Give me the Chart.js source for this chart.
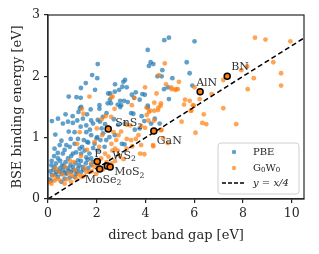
<!DOCTYPE html>
<html lang="en">
<head>
<meta charset="UTF-8">
<title>BSE binding energy vs direct band gap</title>
<script src="https://cdn.jsdelivr.net/npm/chart.js@4.4.9/dist/chart.umd.min.js"></script>
<style>
  html, body { margin: 0; padding: 0; background: #fff; }
</style>
</head>
<body>
<canvas id="grafico" width="319" height="254"></canvas>
<script>
// [direct gap, BSE binding energy]
const pbe = [
  [2.04,2.20],[1.81,2.02],[2.02,1.97],[1.35,1.81],[1.93,1.78],[0.85,1.67],[1.17,1.66],[1.34,1.65],[2.55,1.72],[2.11,1.53],
  [2.45,1.56],[2.58,1.56],[1.55,1.89],[4.77,2.59],[4.96,2.63],[4.09,2.43],[4.21,2.23],[4.14,2.17],[4.32,2.20],[4.69,2.10],
  [4.49,2.00],[4.66,2.00],[5.10,1.97],[3.16,1.94],[3.09,1.91],[2.75,1.87],[3.05,1.83],[3.23,1.82],[2.92,1.78],[4.76,1.79],
  [4.92,1.82],[3.60,1.74],[3.44,1.70],[3.53,1.65],[3.87,1.71],[4.96,1.63],[2.96,1.60],[3.12,1.60],[3.27,1.58],[2.86,1.54],
  [3.00,1.53],[4.09,1.52],[4.38,1.31],[4.58,1.23],[6.01,2.57],[5.69,2.23],[5.81,2.05],[5.92,1.85],[2.54,1.62],[2.47,1.72],
  [2.74,1.75],[3.76,1.62],[3.97,1.70],
  [1.36,1.50],[2.11,1.47],[0.41,1.31],[0.16,1.27],[0.61,1.23],[0.82,1.26],[1.02,1.24],[1.20,1.28],[1.43,1.31],[1.57,1.20],
  [1.77,1.28],[2.04,1.29],[2.25,1.34],[2.34,1.22],[1.34,1.18],[1.57,1.09],[1.09,1.09],[0.93,0.98],[1.23,0.98],[1.77,1.04],
  [2.02,1.01],[2.15,0.96],[1.47,0.96],[1.61,0.93],[1.09,0.90],[1.91,0.90],[0.48,0.88],[0.75,0.88],[0.27,0.82],[0.89,0.85],
  [1.30,0.82],[1.50,0.79],[2.32,0.85],[2.39,0.96],[2.52,1.01],[0.61,0.74],[1.02,0.74],[1.36,0.74],[1.70,0.74],[2.04,0.79],
  [0.82,0.66],[0.41,0.66],[1.23,0.63],[1.57,0.68],[1.77,0.66],[0.72,1.38],[1.01,1.35],[1.31,1.48],[2.13,1.26],[1.85,1.23],
  [1.72,1.13],[2.26,1.07],[1.99,0.99],[2.88,1.21],[3.15,1.23],[2.74,1.04],[3.56,1.13],[3.76,1.15],[2.96,1.50],[3.41,1.40],
  [3.50,1.39],[3.95,1.27],[4.23,1.23],[3.03,0.90],[3.14,0.89],[3.84,1.35],[4.09,1.49],
  [0.14,0.55],[0.27,0.52],[0.48,0.50],[0.65,0.53],[0.82,0.50],[1.02,0.52],[1.23,0.50],[1.43,0.52],[1.64,0.50],[1.77,0.55],
  [0.34,0.44],[0.55,0.41],[0.75,0.41],[0.95,0.44],[1.16,0.41],[1.36,0.44],[0.16,0.39],[0.41,0.36],[0.68,0.33],[0.89,0.35],
  [1.09,0.36],[0.14,0.30],[0.55,0.28],[0.05,0.32],[0.10,0.45],[0.22,0.48],[0.30,0.40],[0.33,0.58],[0.45,0.45],[0.58,0.55],
  [0.62,0.47],[0.70,0.43],[0.72,0.60],[0.85,0.46],[0.92,0.55],[1.05,0.47],[1.12,0.58],[1.20,0.44],[1.28,0.55],[1.35,0.62],
  [1.45,0.48],[1.55,0.58],[1.62,0.64],[1.85,0.60],[0.15,0.62],[0.25,0.70],[0.50,0.62],[0.40,0.75],[0.68,0.80],[0.95,0.70],
  [1.15,0.76],[1.40,0.85],[1.65,0.92],[1.85,0.83],[0.55,0.95],[0.85,1.10],[1.25,1.42],[1.60,1.38],[1.75,1.46],[2.20,1.15],
  [2.40,1.40],[2.70,1.30],[0.30,1.05]
];

const g0w0 = [
  [1.70,1.67],[2.60,1.66],[4.79,2.21],[4.55,2.02],[3.98,1.82],[4.84,1.87],[5.07,1.79],[5.21,1.78],[5.06,1.82],[5.26,1.79],
  [3.54,1.65],[2.65,1.67],[4.36,1.57],[4.63,1.56],[4.62,1.52],[3.44,1.53],[4.20,1.44],[4.51,1.45],[4.45,1.72],[4.04,1.49],
  [1.45,1.39],[2.36,1.35],[5.37,1.91],[6.01,1.82],[7.19,1.94],[6.71,1.71],[5.62,1.62],[5.81,1.60],[5.94,1.53],[5.58,1.54],
  [5.32,1.79],[6.22,1.63],[5.98,1.52],[5.85,1.44],[8.49,2.63],[8.92,2.60],[9.94,2.57],[8.17,2.16],[7.93,2.10],[9.24,2.23],
  [9.56,2.05],[8.44,1.97],[9.56,1.85],[8.19,1.79],[7.19,1.48],[6.39,1.38],[5.48,1.26],[6.33,1.24],[6.49,1.22],[7.72,1.22],
  [6.05,1.08],[5.88,1.44],[4.72,0.99],[4.92,0.91],[4.31,0.88],[4.65,1.13],
  [2.73,1.47],[4.14,1.42],[4.05,1.37],[4.36,1.44],[4.53,1.49],[4.12,1.28],[4.36,1.28],[3.82,1.19],[3.98,1.16],[3.23,1.21],
  [3.37,1.20],[2.69,1.09],[2.89,1.04],[3.23,0.98],[3.41,0.96],[3.71,1.04],[3.60,0.98],[3.82,0.88],[3.78,0.74],[3.95,0.73],
  [4.32,0.86],[3.23,0.82],[3.46,0.86],[2.75,0.82],[2.86,0.79],[2.80,0.96],[4.64,1.12],[2.64,0.79],
  [1.39,1.47],[1.30,1.09],[1.91,0.93],[2.22,1.04],[2.45,1.17],[2.59,1.34],[2.34,0.74],[2.48,0.69],[2.18,0.66],[1.77,0.58],
  [1.57,0.44],[1.70,0.44],[1.91,0.52],[1.98,0.41],[1.36,0.36],[1.16,0.33],[0.95,0.28],[0.68,0.25],[0.27,0.30],[0.14,0.25],
  [0.05,0.28],[0.20,0.38],[0.35,0.33],[0.42,0.45],[0.50,0.30],[0.60,0.40],[0.78,0.32],[0.85,0.42],[1.00,0.38],[1.10,0.47],
  [1.25,0.40],[1.45,0.37],[1.50,0.50],[1.80,0.45],[2.05,0.55],[2.25,0.48],[2.40,0.60],[2.60,0.58],[2.75,0.62],[2.95,0.70],
  [3.10,0.65],[0.30,0.50],[0.70,0.52],[1.05,0.60],[1.35,0.70],[1.60,0.80],[2.10,0.85],[2.60,0.90],[3.00,1.10],[1.20,0.90],
  [0.90,0.62],[2.00,1.15],[2.20,1.30]
];

// marked materials (G0W0 values)
const materiais = ['BN', 'AlN', 'GaN', 'SnS_2', 'P', 'WS_2', 'MoS_2', 'MoSe_2'];
const materiaisGap = [7.35, 6.24, 4.34, 2.47, 2.02, 2.43, 2.55, 2.12];
const materiaisBse = [2.00, 1.75, 1.11, 1.14, 0.61, 0.54, 0.52, 0.49];
// label offset from the marker, in pixels (left edge, baseline)
const rotuloDx = [4, -4, 3, 7, -3, 5, 4, -15];
const rotuloDy = [-6, -6, 13, -3, -5, -7, 8, 14];

const retaGap = [0, 10.5];
const retaBse = [0, 2.625];

const xTicks = [0, 2, 4, 6, 8, 10];
const yTicks = [0, 1, 2, 3];

const corAzul = 'rgba(31,119,180,0.7)';
const corLaranja = 'rgba(255,127,14,0.7)';
const corEixo = '#262626';
const fonte = 'DejaVu Serif';

// draws text where '_x' means subscript x
function textoRico(ctx, texto, x, y, tam) {
  let cx = x;
  for (let i = 0; i < texto.length; i++) {
    let sub = false, ch = texto[i];
    if (ch === '_') { sub = true; ch = texto[++i]; }
    const t = sub ? tam * 0.7 : tam;
    ctx.font = t + 'px "' + fonte + '"';
    ctx.fillText(ch, cx, sub ? y + tam * 0.22 : y);
    cx += ctx.measureText(ch).width;
  }
}

const extras = {
  id: 'extras',
  afterDatasetsDraw(chart) {
    const ctx = chart.ctx;
    const xs = chart.scales.x, ys = chart.scales.y;
    ctx.save();
    ctx.fillStyle = '#333';
    ctx.textBaseline = 'alphabetic';
    ctx.textAlign = 'left';
    materiais.forEach((nome, i) => {
      const px = xs.getPixelForValue(materiaisGap[i]);
      const py = ys.getPixelForValue(materiaisBse[i]);
      textoRico(ctx, nome, px + rotuloDx[i], py + rotuloDy[i], 11);
    });
    ctx.restore();
  },
  afterDraw(chart) {
    const ctx = chart.ctx;
    const a = chart.chartArea;
    ctx.save();
    // frame
    ctx.strokeStyle = corEixo;
    ctx.lineWidth = 1.2;
    ctx.strokeRect(a.left, a.top, a.right - a.left, a.bottom - a.top);

    // legend box
    const bx = a.right - 86, by = a.bottom - 56, bw = 81, bh = 51;
    ctx.beginPath();
    ctx.roundRect(bx, by, bw, bh, 3);
    ctx.fillStyle = 'rgba(255,255,255,0.8)';
    ctx.fill();
    ctx.strokeStyle = '#d0d0d0';
    ctx.lineWidth = 1;
    ctx.stroke();

    const mx = bx + 16, tx = bx + 35;
    const linhas = [by + 9, by + 25, by + 40];
    ctx.fillStyle = corAzul;
    ctx.beginPath(); ctx.arc(mx, linhas[0], 2.2, 0, Math.PI * 2); ctx.fill();
    ctx.fillStyle = corLaranja;
    ctx.beginPath(); ctx.arc(mx, linhas[1], 2.2, 0, Math.PI * 2); ctx.fill();
    ctx.strokeStyle = '#000';
    ctx.lineWidth = 1.5;
    ctx.setLineDash([4, 2]);
    ctx.beginPath(); ctx.moveTo(bx + 4, linhas[2]); ctx.lineTo(bx + 28, linhas[2]); ctx.stroke();
    ctx.setLineDash([]);

    ctx.fillStyle = '#222';
    ctx.textBaseline = 'middle';
    textoRico(ctx, 'PBE', tx, linhas[0], 10);
    textoRico(ctx, 'G_0W_0', tx, linhas[1], 10);
    ctx.font = 'italic 10px "' + fonte + '"';
    ctx.fillText('y = x/4', tx, linhas[2]);
    ctx.restore();
  }
};

const eixoComum = {
  type: 'linear',
  grid: { drawOnChartArea: false, drawTicks: true, tickLength: 4, color: corEixo, lineWidth: 1.2 },
  border: { display: true, color: corEixo, width: 1.2 }
};

new Chart(document.getElementById('grafico'), {
  type: 'scatter',
  data: {
    datasets: [
      {
        label: 'PBE',
        data: pbe.map(p => ({ x: p[0], y: p[1] })),
        backgroundColor: corAzul,
        borderWidth: 0,
        pointRadius: 2.4,
        order: 4
      },
      {
        label: 'G0W0',
        data: g0w0.map(p => ({ x: p[0], y: p[1] })),
        backgroundColor: corLaranja,
        borderWidth: 0,
        pointRadius: 2.4,
        order: 3
      },
      {
        label: 'y = x/4',
        data: retaGap.map((v, i) => ({ x: v, y: retaBse[i] })),
        showLine: true,
        borderColor: '#000',
        borderWidth: 1.5,
        borderDash: [5, 3],
        pointRadius: 0,
        order: 2
      },
      {
        label: 'destaques',
        data: materiaisGap.map((v, i) => ({ x: v, y: materiaisBse[i] })),
        backgroundColor: '#ff7f0e',
        borderColor: '#000',
        borderWidth: 1.5,
        pointRadius: 3,
        order: 1
      }
    ]
  },
  options: {
    responsive: false,
    animation: false,
    devicePixelRatio: 1,
    layout: { padding: { top: 15, right: 15, left: 0, bottom: 0 } },
    plugins: { legend: { display: false }, tooltip: { enabled: false } },
    scales: {
      x: {
        ...eixoComum,
        min: 0, max: 10.5,
        afterFit: s => { s.height = 55; },
        afterBuildTicks: s => { s.ticks = xTicks.map(v => ({ value: v })); },
        ticks: { font: { family: fonte, size: 12.5 }, color: corEixo, padding: 3, maxRotation: 0, autoSkip: false },
        title: { display: true, text: 'direct band gap [eV]', font: { family: fonte, size: 13 }, color: corEixo, padding: { top: 0, bottom: 11 } }
      },
      y: {
        ...eixoComum,
        min: 0, max: 3,
        afterFit: s => { s.width = 48; },
        afterBuildTicks: s => { s.ticks = yTicks.map(v => ({ value: v })); },
        ticks: { font: { family: fonte, size: 12.5 }, color: corEixo, padding: 4, autoSkip: false },
        title: { display: true, text: 'BSE binding energy [eV]', font: { family: fonte, size: 13 }, color: corEixo, padding: { top: 10, bottom: 0 } }
      }
    }
  },
  plugins: [extras]
});
</script>
</body>
</html>
